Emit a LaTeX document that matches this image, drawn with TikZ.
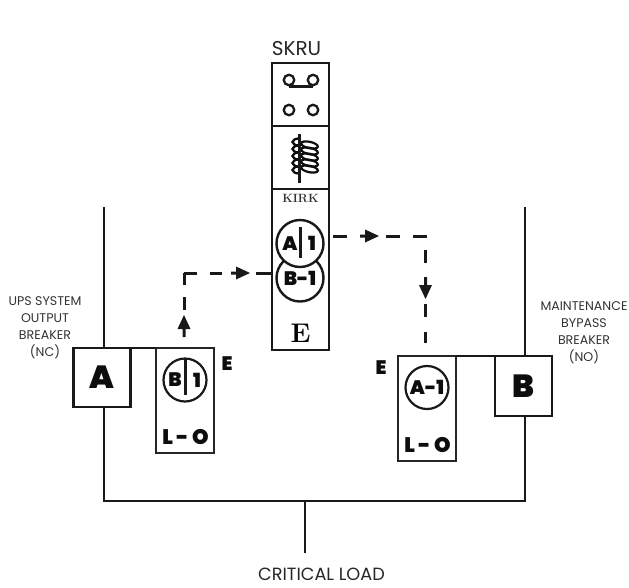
\documentclass[tikz,border=0pt]{standalone}
\usepackage{fontspec}
\newfontfamily\pop{Poppins}
\newfontfamily\popx{Poppins}[UprightFont=* Black]
\tikzset{
 x=1pt,y=-1pt,
 rail/.style={line width=2.9pt,black!90},
 boxthick/.style={draw=black!90,line width=2.6pt,fill=white,outer sep=0pt},
 lobox/.style={draw=black!85,line width=2.4pt,outer sep=0pt},
 ring/.style={circle,draw=black!90,line width=2.2pt,fill=white,minimum size=43pt,inner sep=0pt},
 bigring/.style={circle,draw=black!90,line width=2.4pt,fill=white,minimum size=47pt,inner sep=0pt},
 labeltext/.style={font=\pop\fontsize{12.6}{17}\selectfont,align=center,text=black!80,inner sep=0pt},
 captext/.style={font=\pop\fontsize{20}{22}\selectfont,text=black!85,inner sep=0pt},
 heavy/.style={font=\popx\fontsize{19.5}{21}\selectfont,inner sep=0pt,text=black!95},
 lotext/.style={font=\popx\fontsize{21}{22}\selectfont,inner sep=0pt,text=black!95},
 big/.style={font=\popx\fontsize{32}{33}\selectfont,inner sep=0pt,text=black!95},
 dashrun/.style={line width=3pt,black!90},
 arrowhd/.style={fill=black!90,draw=none},
 contact/.style={circle,draw=black!90,line width=2.3pt,fill=white,minimum size=10.5pt,inner sep=0pt},
 barline/.style={line width=3pt,black!90},
}
\begin{document}
\begin{tikzpicture}
\useasboundingbox (0,0) rectangle (629,587);
% rails
\draw[rail] (104,207) -- (104,501) -- (525,501) -- (525,207);
\draw[rail] (305,501) -- (305,553);
% SKRU
\node[draw=black!90,line width=2.9pt,minimum width=57pt,minimum height=287pt,inner sep=0pt,fill=white] (skru) at (300.5,206.5) {};
\draw[rail] (272,126) -- (329,126);
\draw[rail] (272,189) -- (329,189);
\node[captext] (skrut) at (296.5,49) {SKRU};
\node[contact] (c1) at (289,80) {};
\node[contact] (c2) at (313,80) {};
\node[contact] (c3) at (289,110) {};
\node[contact] (c4) at (313,110) {};
\draw[line width=2.3pt,black!90] (c1.south) -- (c2.south);
% coil
\foreach \yy in {145,151,157,163,169}
  \draw[line width=2.2pt,black!95] (309.5,\yy) ellipse [x radius=8.5,y radius=3.2,rotate=-12];
\foreach \yy in {149,156,163,170,177}
  \draw[line width=2.3pt,black!95] (299,\yy-3.5) arc[start angle=90,end angle=270,x radius=6.5,y radius=3.5];
\draw[line width=3pt,black!90] (299,134) -- (299,183);
\node[font=\bfseries\fontsize{12}{14}\selectfont,text=black!80,inner sep=0pt] (kirk) at (300.5,198) {KIRK};
\node[bigring] (b1) at (300,278) {};
\node[heavy] at (b1.center) {B-1};
\node[bigring] (a1) at (300,243.5) {};
\node[heavy] (at) at (290,243.7) {A};
\node[heavy] (ot) at (312,243.7) {1};
\draw[barline] (300,227) -- (300,258);
\node[font=\bfseries\fontsize{27}{29}\selectfont,inner sep=0pt] (e0) at (300.5,333) {E};
% left breaker
\node[boxthick,minimum width=57pt,minimum height=59pt,inner sep=0pt] (A) at (102,377.5) {};
\node[big] at (A.center) {A};
\node[lobox,minimum width=58pt,minimum height=105pt,inner sep=0pt] (lo1) at (185,400.5) {};
\draw[rail] (A.north east) -- (lo1.north west);
\node[ring] (r1) at (185,380) {};
\node[heavy] (bt) at (175,380) {B};
\node[heavy] (ot1) at (197,380) {1};
\draw[barline] (185,358) -- (185,395);
\node[lotext] (lo1t) at (185.5,437.5) {L - O};
\node[heavy] (e1) at (227,364) {E};
% right breaker
\node[boxthick,minimum width=57pt,minimum height=60pt,inner sep=0pt] (B) at (523.5,386) {};
\node[big] at (B.center) {B};
\node[lobox,minimum width=58pt,minimum height=105pt,inner sep=0pt] (lo2) at (427,408.5) {};
\draw[rail] (lo2.north east) -- (B.north west);
\node[ring] (r2) at (427,387.5) {};
\node[heavy] at (r2.center) {A-1};
\node[lotext] (lo2t) at (427.5,445.5) {L - O};
\node[heavy] (e2) at (381,367.5) {E};
% labels
\node[labeltext] (lu) at (45,328) {UPS SYSTEM\\OUTPUT\\BREAKER\\(NC)};
\node[labeltext] (lm) at (584,333) {MAINTENANCE\\BYPASS\\BREAKER\\(NO)};
\node[captext,font=\pop\fontsize{17.7}{20}\selectfont] (load) at (321.5,574) {CRITICAL LOAD};
% dashed connectors: right
\foreach \xa/\xb in {333/347,386/400,413/427} \draw[dashrun] (\xa,236) -- (\xb,236);
\fill[arrowhd] (379,236) -- (365,229.5) -- (365,234.5) -- (360,234.5) -- (360,237.5) -- (365,237.5) -- (365,242.5) -- cycle;
\foreach \ya/\yb in {250/263,304/317,332/343} \draw[dashrun] (425.5,\ya) -- (425.5,\yb);
\fill[arrowhd] (425.5,299) -- (419,285) -- (424,285) -- (424,277) -- (427,277) -- (427,285) -- (432,285) -- cycle;
% dashed connectors: left
\foreach \ya/\yb in {273/285,297/310} \draw[dashrun] (184,\ya) -- (184,\yb);
\foreach \xa/\xb in {184/197,210/222,256/271} \draw[dashrun] (\xa,273) -- (\xb,273);
\fill[arrowhd] (250,273) -- (236,266.5) -- (236,271.5) -- (231,271.5) -- (231,274.5) -- (236,274.5) -- (236,279.5) -- cycle;
\fill[arrowhd] (184,315) -- (177.5,329) -- (182.5,329) -- (182.5,337) -- (185.5,337) -- (185.5,329) -- (190.5,329) -- cycle;
\end{tikzpicture}
\end{document}
